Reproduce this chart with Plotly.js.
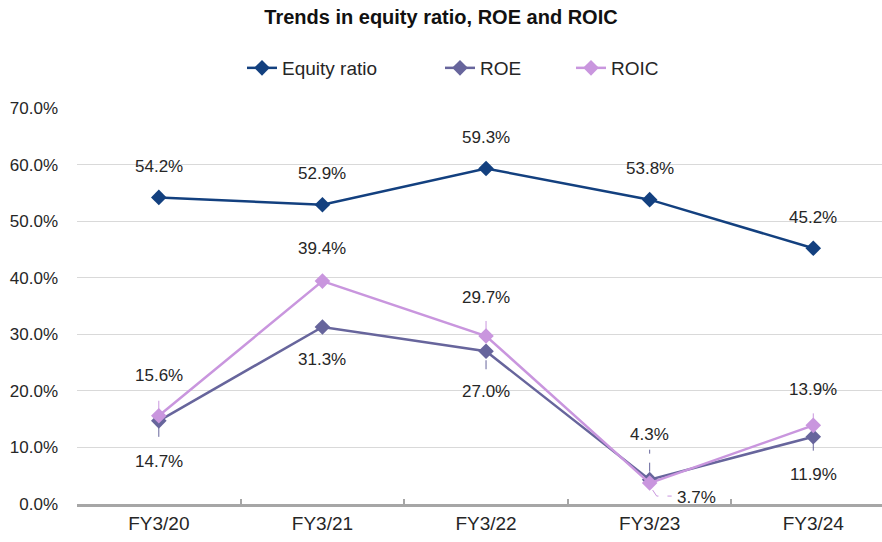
<!DOCTYPE html>
<html>
<head>
<meta charset="utf-8">
<script src="https://cdn.plot.ly/plotly-3.0.1.min.js"></script>
<style>html,body{margin:0;padding:0;background:#fff;}#chart{width:882px;height:542px;}</style>
</head>
<body>
<div id="chart"></div>
<script>
// ---- data ----
const categories = ["FY3/20", "FY3/21", "FY3/22", "FY3/23", "FY3/24"];
const equityRatio = [54.2, 52.9, 59.3, 53.8, 45.2];
const roe = [14.7, 31.3, 27.0, 4.3, 11.9];
const roic = [15.6, 39.4, 29.7, 3.7, 13.9];
const seriesNames = ["Equity ratio", "ROE", "ROIC"];

// ---- styles / label placement (pixel offsets, positive = up) ----
const colors = ["#13407f", "#67659c", "#c996de"];
const labelShift = [
  [[0,31],[0,31],[0,31],[0,31],[0,31]],
  [[0,-41],[0,-33],[0,-40],[0,45],[0,-38]],
  [[0,40],[0,33],[0,38],[47,-14],[0,36]]
];
// leader lines: [seriesIdx, pointIdx, y0, y1]
const leaders = [
  [2,0,6,24],[1,0,-7,-21],
  [2,2,6,21],[1,2,-9,-24],
  [1,3,8,30],
  [2,4,3,20],[1,4,-5,-18]
];
const legendLeft = [242, 440, 571];   // px, legend box left edges
const allSeries = [equityRatio, roe, roic];
const FONT = "Liberation Sans, Arial, sans-serif";
const TXT = "#262626";
const legendIds = ["legend", "legend2", "legend3"];

const traces = allSeries.map((vals, s) => ({
  type: "scatter", mode: "lines+markers", name: seriesNames[s],
  x: categories, y: vals, legend: legendIds[s],
  line: {color: colors[s], width: 2.5},
  marker: {symbol: "diamond", size: 12, color: colors[s]},
  hoverinfo: "skip"
}));

const annotations = [];
allSeries.forEach((vals, s) => {
  vals.forEach((v, i) => {
    annotations.push({
      xref: "x", yref: "y", x: i, y: v,
      text: v.toFixed(1) + "%", showarrow: false,
      xshift: labelShift[s][i][0], yshift: labelShift[s][i][1],
      font: {family: FONT, size: 17, color: TXT}
    });
  });
});

const shapes = leaders.map(([s, i, a, b]) => ({
  type: "line", xref: "x", yref: "y", ysizemode: "pixel",
  x0: i, x1: i, yanchor: allSeries[s][i], y0: a, y1: b,
  line: {color: colors[s], width: 1, dash: "dash"}
}));
// ROIC FY3/23 elbow leader
shapes.push({
  type: "path", xref: "x", yref: "y", xsizemode: "pixel", ysizemode: "pixel",
  xanchor: 3, yanchor: roic[3],
  path: "M 3,-7 L 7,-13 L 22,-13",
  line: {color: colors[2], width: 1, dash: "dash"}
});

const layout = {
  width: 882, height: 542,
  margin: {l: 77, r: 0, t: 108, b: 38},
  paper_bgcolor: "#fff", plot_bgcolor: "#fff",
  font: {family: FONT, color: TXT},
  title: {text: "<b>Trends in equity ratio, ROE and ROIC</b>", x: 0.5, xref: "container",
          y: 1 - 17/542, yref: "container", yanchor: "middle",
          font: {family: FONT, size: 20, color: "#111"}},
  showlegend: true,
  xaxis: {
    type: "category", range: [-0.5, 4.42],
    showline: true, linecolor: "#a6a6a6", linewidth: 3,
    ticks: "inside", tickson: "boundaries", ticklen: 5, tickcolor: "#a6a6a6", tickwidth: 2,
    showgrid: false, zeroline: false,
    tickfont: {family: FONT, size: 19, color: TXT},
    fixedrange: true
  },
  yaxis: {
    range: [0, 70], dtick: 10, tickformat: ".1f", ticksuffix: "%",
    showgrid: true, gridcolor: "#d9d9d9", gridwidth: 1,
    zeroline: false, showline: false, ticks: "",
    ticklabelstandoff: 18,
    tickfont: {family: FONT, size: 17, color: TXT},
    fixedrange: true
  },
  annotations: annotations,
  shapes: shapes
};
legendIds.forEach((id, s) => {
  layout[id] = {orientation: "h", x: legendLeft[s] / 882, xanchor: "left", xref: "container",
                y: 1 - 68/542, yanchor: "middle", yref: "container",
                font: {family: FONT, size: 19, color: TXT}, bgcolor: "rgba(0,0,0,0)"};
});

Plotly.newPlot("chart", traces, layout, {displayModeBar: false, staticPlot: true});
</script>
</body>
</html>
